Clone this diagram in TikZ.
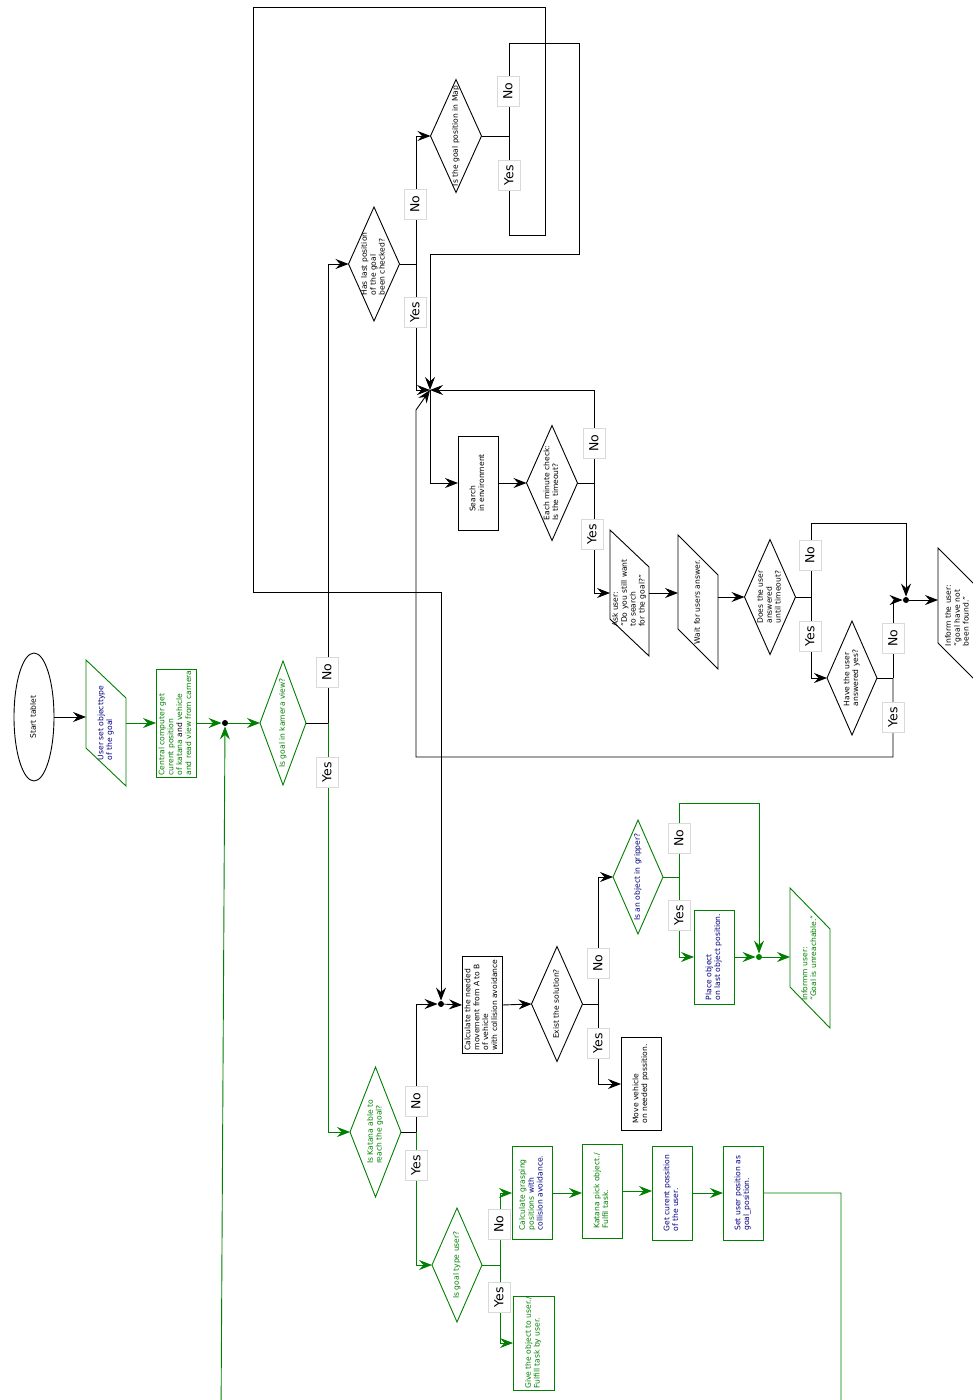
\documentclass[tikz,border=0pt]{standalone}
\usepackage{fontspec}
\setmainfont{DejaVu Sans}
\usepackage{graphicx}
\usetikzlibrary{shapes.geometric,arrows.meta,calc}
\definecolor{grn}{RGB}{0,128,0}
\definecolor{nvy}{RGB}{0,0,128}
\newcommand\bfs{\fontsize{7.6}{8.9}\selectfont}
\newcommand\lfs{\fontsize{12.5}{14}\selectfont}
\newcommand\rt[1]{\makebox[0pt][c]{\raisebox{-.5\height}[0pt][0pt]{\rotatebox{90}{\begin{tabular}{@{}l@{}}#1\end{tabular}}}}}
\newcommand\mypara[3]{\draw[#3] (#1.north west) -- ([yshift=-#2pt]#1.north east) -- (#1.south east) -- ([yshift=#2pt]#1.south west) -- cycle;}
\begin{document}
\begin{tikzpicture}[x=1pt,y=-1pt,line width=0.9pt,
  arr/.style={-{Stealth[length=13pt,width=10pt,inset=4.5pt]}},
  nd/.style={inner sep=0pt,outer sep=0pt,font=\bfs},
  dot/.style={circle,fill=black,inner sep=0pt,minimum size=6pt},
  lbl/.style={rotate=90,draw=gray!30,fill=white,font=\lfs,inner sep=2pt,minimum width=30pt,minimum height=22pt,line width=0.6pt}]
\path[fill=white,use as bounding box] (0,0) rectangle (973,1400);

% nodes
\node[nd,ellipse,draw,minimum width=40pt,minimum height=128pt] (start) at (34,717) {\rt{Start tablet}};
\node[nd,minimum width=40pt,minimum height=126pt,text=nvy] (ust) at (106,723) {\rt{User set objecttype\\of the goal}};
\mypara{ust}{38}{grn}
\node[nd,rectangle,draw=grn,minimum width=40pt,minimum height=108pt,text=grn] (ccg) at (176,723) {\rt{Central computer get\\curent position\\of katana {\color{black}and} vehicle\\and read view from camera}};
\node[dot] (d1) at (225,723) {};
\node[nd,diamond,draw=grn,minimum width=46pt,minimum height=124pt,text=grn] (kam) at (283,723) {\rt{Is goal in kamera view?}};
\node[nd,diamond,draw,minimum width=51pt,minimum height=114pt] (hl) at (374,264) {\rt{Has last position\\of the goal\\been checked?}};
\node[nd,diamond,draw,minimum width=51pt,minimum height=113pt] (map) at (456,136) {\rt{Is the goal position in Map}};
\coordinate (j1) at (430,390);
\node[nd,rectangle,draw,minimum width=40pt,minimum height=94pt] (search) at (478,483) {\rt{Search\\in environment}};
\node[nd,diamond,draw,minimum width=51pt,minimum height=115pt] (emc) at (552,483) {\rt{Each minute check:\\Is the timeout?}};
\node[nd,minimum width=39pt,minimum height=126pt] (ask) at (629.5,593) {\rt{Ask user:\\"Do you still want\\to search\\for the goal?"}};
\mypara{ask}{37}{black}
\node[nd,minimum width=40pt,minimum height=134pt] (wait) at (698,602) {\rt{Wait for users answer.}};
\mypara{wait}{40}{black}
\node[nd,diamond,draw,minimum width=51pt,minimum height=115pt] (dua) at (770,597) {\rt{Does the user\\answered\\until timeout?}};
\node[nd,diamond,draw,minimum width=50pt,minimum height=114pt] (hay) at (852,678) {\rt{Have the user\\answered yes?}};
\node[dot] (d3) at (906,600) {};
\node[nd,minimum width=40pt,minimum height=135pt] (inf) at (958,615.5) {\rt{Inform the user:\\"goal have not\\been found."}};
\mypara{inf}{40}{black}
\node[nd,rectangle,draw,minimum width=40pt,minimum height=97pt] (calc) at (482,1005) {\rt{Calculate the needed\\movement from A to B\\of vehicle\\with collision avoidance}};
\node[dot] (d2) at (441,1004) {};
\node[nd,diamond,draw,minimum width=51pt,minimum height=115pt] (exist) at (557,1004) {\rt{Exist the solution?}};
\node[nd,rectangle,draw,minimum width=40pt,minimum height=93pt] (move) at (641,1084) {\rt{Move vehicle\\on needed possition.}};
\node[nd,diamond,draw=grn,minimum width=50pt,minimum height=114pt,text=nvy] (grip) at (638,877) {\rt{Is an object in gripper?}};
\node[nd,rectangle,draw=grn,minimum width=40pt,minimum height=94pt,text=nvy] (place) at (714,957) {\rt{Place object\\on last object position.}};
\node[dot,fill=grn] (d4) at (759,957) {};
\node[nd,minimum width=40pt,minimum height=140pt,text=grn] (infu) at (810,958) {\rt{Informm user:\\"Goal is unreachable."}};
\mypara{infu}{41}{grn}
\node[nd,diamond,draw=grn,minimum width=51pt,minimum height=130pt,text=grn] (kat) at (375.5,1132) {\rt{Is Katana able to\\reach the goal?}};
\node[nd,diamond,draw=grn,minimum width=50pt,minimum height=114pt,text=grn] (gtu) at (457,1265) {\rt{Is goal type user?}};
\node[nd,rectangle,draw=grn,minimum width=40pt,minimum height=93pt,text=grn] (cgp) at (532,1193) {\rt{Calculate grasping\\positions {\color{nvy}with}\\{\color{nvy}collision avoidance.}}};
\node[nd,rectangle,draw=grn,minimum width=40pt,minimum height=94pt,text=grn] (kpo) at (602,1191) {\rt{Katana pick object./\\Fulfil task.}};
\node[nd,rectangle,draw=grn,minimum width=40pt,minimum height=94pt,text=nvy] (gcp) at (672,1193) {\rt{Get curent possition\\of the user.}};
\node[nd,rectangle,draw=grn,minimum width=40pt,minimum height=94pt,text=nvy] (sup) at (743,1193) {\rt{Set user position as\\goal\_position.}};
\node[nd,rectangle,draw=grn,minimum width=41pt,minimum height=94pt,text=grn] (give) at (533.5,1343) {\rt{Give the object to user./\\Fulfill task by user.}};

% connectors
\draw[arr] (start.east) -- (start.east -| ust.west);
\draw[arr,grn] (ust.east) -- (ccg.west);
\draw[arr,grn] (ccg.east) -- (d1);
\draw[arr,grn] (d1) -- (kam.west);
\draw[arr,grn] (sup.east) -| (841,1420) -- (221,1420) -- (d1);
\coordinate (bk) at (328,723);
\draw (kam.east) -- (bk);
\draw[arr] (bk) |- (hl.west);
\draw[arr,grn] (bk) |- (kat.west);
\coordinate (bh) at (416,264);
\draw (hl.east) -- (bh);
\draw[arr] (bh) |- (map.west);
\draw[arr] (bh) |- (j1);
\coordinate (bm) at (509,136);
\draw (map.east) -- (bm);
\draw[arr] (bm) |- (579,43) |- (430,254) -- (j1);
\draw[arr] (bm) |- (545,235) -- (545,7) -| (253,592) -| (d2);
\draw[arr] (j1) |- (search.west);
\draw[arr] (search.east) -- (emc.west);
\coordinate (be) at (594,483);
\draw (emc.east) -- (be);
\draw[arr] (be) |- (j1);
\draw[arr] (be) |- (ask.west);
\draw[arr] (ask.east) -- (ask.east -| wait.west);
\draw[arr] (dua.west -| wait.east) -- (dua.west);
\coordinate (bd) at (811,597);
\draw (dua.east) -- (bd);
\draw[arr] (bd) |- (906,523) -- (d3);
\draw[arr] (bd) |- (hay.west);
\coordinate (by) at (893,678);
\draw (hay.east) -- (by);
\draw[arr] (by) |- (d3);
\draw[arr] (by) -- (893,757) -| (416,410) -- (j1);
\draw[arr] (d3) -- (d3 -| inf.west);
\coordinate (bk2) at (416,1132);
\draw (kat.east) -- (bk2);
\draw[arr] (bk2) |- (d2);
\draw[arr,grn] (bk2) |- (gtu.west);
\draw[arr] (d2) -- (calc.west);
\draw[arr] (calc.east) -- (exist.west);
\coordinate (bx) at (598,1004);
\draw (exist.east) -- (bx);
\draw[arr] (bx) |- (grip.west);
\draw[arr] (bx) |- (move.west);
\coordinate (bg) at (679,877);
\draw[grn] (grip.east) -- (bg);
\draw[arr,grn] (bg) |- (759,803) -- (d4);
\draw[arr,grn] (bg) |- (place.west);
\draw[arr,grn] (place.east) -- (d4);
\draw[arr,grn] (d4) -- (d4 -| infu.west);
\coordinate (bt) at (500,1265);
\draw[grn] (gtu.east) -- (bt);
\draw[arr,grn] (bt) |- (cgp.west);
\draw[arr,grn] (bt) |- (give.west);
\draw[arr,grn] (cgp.east) -- (cgp.east -| kpo.west);
\draw[arr,grn] (kpo.east) -- (kpo.east -| gcp.west);
\draw[arr,grn] (gcp.east) -- (sup.west);

% labels
\foreach \n/\x/\y/\t in {lk1/327/672/No, lk2/327/772/Yes, lh1/415/204/No, lh2/415/312/Yes,
  lm1/508/91/No, lm2/509/175/Yes, le1/594/443/No, le2/592/534/Yes,
  ld1/810/555/No, ld2/810/636/Yes, ly1/893/638/No, ly2/893/717/Yes,
  lx1/598/963/No, lx2/598/1043/Yes, lg1/679/838/No, lg2/679/915/Yes,
  lt1/416/1101/No, lt2/416/1165/Yes, lu1/499/1224/No, lu2/499/1297/Yes}
  \node[lbl] (\n) at (\x,\y) {\t};
\end{tikzpicture}
\end{document}
